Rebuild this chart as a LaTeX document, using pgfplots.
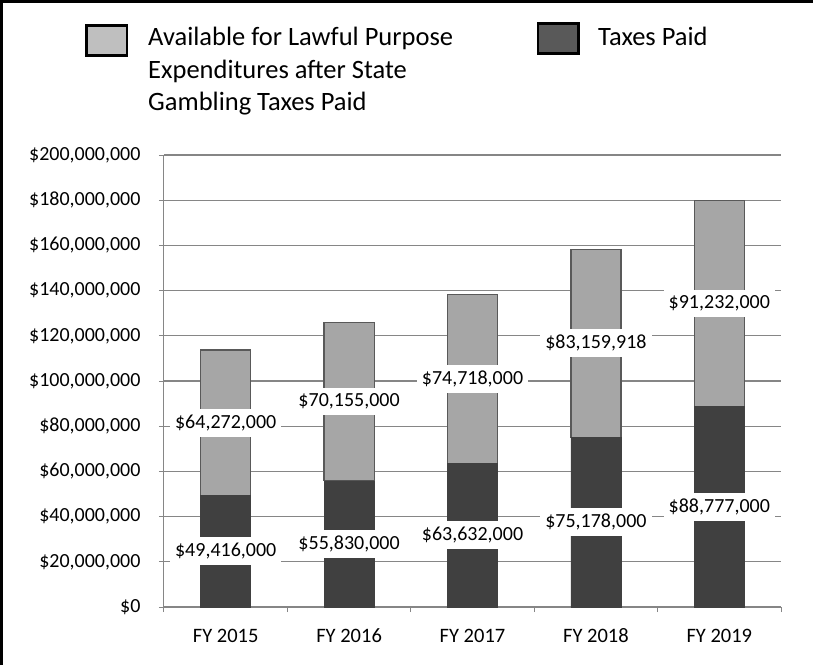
\documentclass[border=0pt]{standalone}
\usepackage{fontspec}
\setmainfont{Carlito}
\usepackage{pgfplots}
\usepackage{pgfplotstable}
\pgfplotsset{compat=1.18}

\definecolor{taxdark}{HTML}{404040}
\definecolor{availlight}{HTML}{A6A6A6}
\definecolor{barline}{HTML}{595959}
\definecolor{gridgray}{HTML}{868686}
\definecolor{legdark}{HTML}{595959}
\definecolor{leglight}{HTML}{BFBFBF}

% values in millions of dollars, labels as printed
\pgfplotstableread{
x tax    avail  taxlab       availlab
0 49.416 64.272 \$49,416,000 \$64,272,000
1 55.830 70.155 \$55,830,000 \$70,155,000
2 63.632 74.718 \$63,632,000 \$74,718,000
3 75.178 83.160 \$75,178,000 \$83,159,918
4 88.777 91.232 \$88,777,000 \$91,232,000
}\gambling

\begin{document}
\begin{tikzpicture}[x=1pt,y=1pt]
  \path[use as bounding box] (-164,-58) rectangle (649,607);
  \begin{axis}[
      at={(0,0)}, anchor=south west,
      scale only axis, width=617pt, height=452pt,
      ybar stacked, bar width=50pt,
      xmin=-0.5, xmax=4.5, ymin=0, ymax=200,
      axis x line*=bottom, axis y line*=left,
      axis line style={gridgray, line width=1pt},
      ytick={0,20,...,200},
      yticklabels={{\$0},{\$20,000,000},{\$40,000,000},{\$60,000,000},{\$80,000,000},
        {\$100,000,000},{\$120,000,000},{\$140,000,000},{\$160,000,000},{\$180,000,000},{\$200,000,000}},
      yticklabel style={xshift=-15pt},
      ymajorgrids, grid style={gridgray, line width=1.3pt},
      xtick={-0.5,0.5,...,4.5},
      x tick label as interval,
      xticklabels={FY 2015,FY 2016,FY 2017,FY 2018,FY 2019},
      xticklabel style={anchor=base, yshift=-30pt, font=\fontsize{20.5}{24}\selectfont},
      tick align=outside, major tick length=5pt,
      tick style={gridgray, line width=1pt},
      tick label style={font=\fontsize{20}{24}\selectfont, text=black},
      nodes near coords,
      point meta=explicit symbolic,
      every node near coord/.append style={anchor=center, fill=white, text=black,
        inner xsep=5pt, inner ysep=6pt, font=\fontsize{20}{24}\selectfont},
    ]
    \addplot[fill=taxdark, draw=taxdark]
      table[x=x, y=tax, meta=taxlab] {\gambling};
    \addplot[fill=availlight, draw=barline, line width=1.2pt]
      table[x=x, y=avail, meta=availlab] {\gambling};
  \end{axis}
  % frame
  \draw[line width=3pt] (-162,-58) -- (-162,605.5) -- (649,605.5);
  % legend
  \draw[fill=leglight, line width=2.5pt] (-77.5,551.5) rectangle (-37,581.5);
  \draw[fill=legdark, line width=2.5pt] (374,553.5) rectangle (414.5,583.5);
  \begin{scope}[every node/.style={anchor=base west, inner sep=0pt, font=\fontsize{26.5}{30}\selectfont}]
    \node at (-16,561) {Available for Lawful Purpose};
    \node at (-16,528) {Expenditures after State};
    \node at (-16,496) {Gambling Taxes Paid};
    \node at (434,561) {Taxes Paid};
  \end{scope}
\end{tikzpicture}
\end{document}
